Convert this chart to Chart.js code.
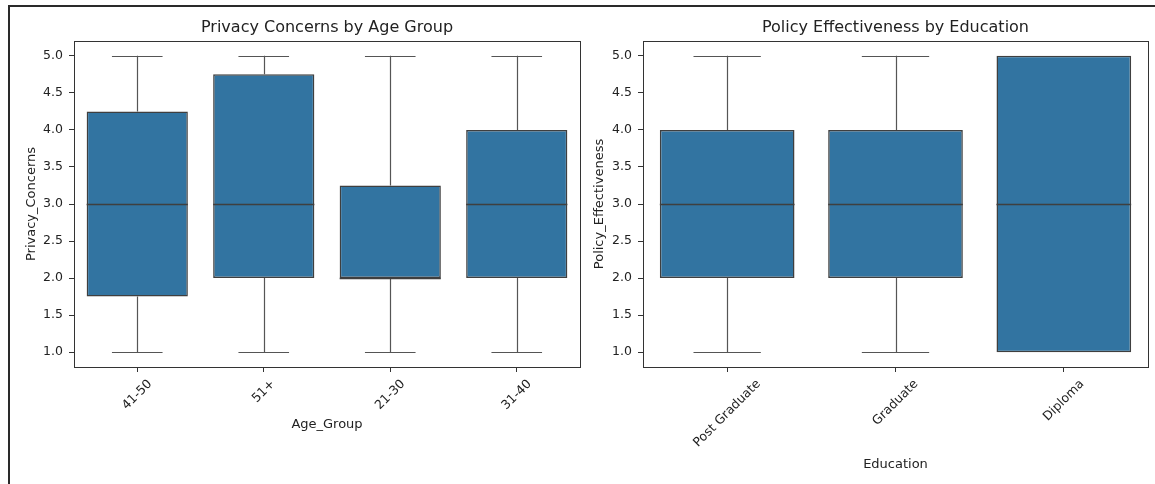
<!DOCTYPE html>
<html>
<head>
<meta charset="utf-8">
<script src="https://cdn.jsdelivr.net/npm/chart.js@4.4.1/dist/chart.umd.min.js"></script>
<style>
  body { margin: 0; background: #fff; width: 1155px; height: 484px; overflow: hidden; position: relative; }
  #frame { position: absolute; left: 8px; top: 5px; width: 1200px; height: 500px; border-left: 2px solid #2a2a2a; border-top: 2px solid #2a2a2a; }
  canvas { position: absolute; top: 0; }
  #chartAge { left: 0; }
  #chartEdu { left: 590px; }
</style>
</head>
<body>
<div id="frame"></div>
<canvas id="chartAge" width="600" height="484"></canvas>
<canvas id="chartEdu" width="565" height="484"></canvas>
<script>
// privacy concerns, five-number summary per age group
const ageGroups = ['41-50', '51+', '21-30', '31-40'];
const privacyMin = [1, 1, 1, 1];
const privacyQ1 = [1.75, 2, 2, 2];
const privacyMedian = [3, 3, 2, 3];
const privacyQ3 = [4.25, 4.75, 3.25, 4];
const privacyMax = [5, 5, 5, 5];

// policy effectiveness per education level
const educationLevels = ['Post Graduate', 'Graduate', 'Diploma'];
const policyMin = [1, 1, 1];
const policyQ1 = [2, 2, 1];
const policyMedian = [3, 3, 3];
const policyQ3 = [4, 4, 5];
const policyMax = [5, 5, 5];

const yTicks = [1.0, 1.5, 2.0, 2.5, 3.0, 3.5, 4.0, 4.5, 5.0];

const FONT = 'DejaVu Sans';
const TEXT = '#222';
const BOX = '#3274a1';
const EDGE = '#3f3f3f';
const TICK_SIZE = 12.5;
const LABEL_SIZE = 13;

// whiskers, caps, medians, the axes frame and rotated category labels
const boxExtras = {
    id: 'boxExtras',
    beforeDatasetsDraw(chart, args, o) {
        const ctx = chart.ctx;
        const xs = chart.scales.x, ys = chart.scales.y;
        ctx.save();
        ctx.strokeStyle = '#555';
        ctx.lineWidth = 1.2;
        for (let i = 0; i < o.labels.length; i++) {
            const x = Math.round(xs.getPixelForValue(i)) + 0.5;
            ctx.beginPath();
            ctx.moveTo(x, ys.getPixelForValue(o.q3[i]));
            ctx.lineTo(x, ys.getPixelForValue(o.max[i]));
            ctx.moveTo(x, ys.getPixelForValue(o.q1[i]));
            ctx.lineTo(x, ys.getPixelForValue(o.min[i]));
            ctx.stroke();
        }
        ctx.restore();
    },
    afterDatasetsDraw(chart, args, o) {
        const ctx = chart.ctx;
        const xs = chart.scales.x, ys = chart.scales.y;
        const step = xs.width / o.labels.length;
        ctx.save();
        for (let i = 0; i < o.labels.length; i++) {
            const x = xs.getPixelForValue(i);
            const cap = step * 0.2;
            const half = step * 0.4;
            ctx.strokeStyle = '#555';
            ctx.lineWidth = 1.2;
            ctx.beginPath();
            // caps only where the whisker sticks out of the box
            let y = Math.round(ys.getPixelForValue(o.max[i])) + 0.5;
            if (o.max[i] > o.q3[i]) { ctx.moveTo(x - cap, y); ctx.lineTo(x + cap, y); }
            y = Math.round(ys.getPixelForValue(o.min[i])) + 0.5;
            if (o.min[i] < o.q1[i]) { ctx.moveTo(x - cap, y); ctx.lineTo(x + cap, y); }
            ctx.stroke();
            ctx.strokeStyle = EDGE;
            ctx.lineWidth = 1.5;
            ctx.beginPath();
            y = Math.round(ys.getPixelForValue(o.median[i])) + 0.5;
            ctx.moveTo(x - half, y); ctx.lineTo(x + half, y);
            ctx.stroke();
        }
        ctx.restore();
    },
    afterDraw(chart, args, o) {
        const ctx = chart.ctx;
        const a = chart.chartArea;
        const xs = chart.scales.x;
        ctx.save();
        ctx.strokeStyle = '#333';
        ctx.lineWidth = 1;
        ctx.strokeRect(Math.round(a.left) + 0.5, Math.round(a.top) + 0.5,
            Math.round(a.right - a.left), Math.round(a.bottom - a.top));

        ctx.font = TICK_SIZE + 'px "' + FONT + '"';
        ctx.fillStyle = TEXT;
        ctx.textAlign = 'center';
        ctx.textBaseline = 'middle';
        o.labels.forEach((lab, i) => {
            const x = xs.getPixelForTick(i);
            const w = ctx.measureText(lab).width;
            const d = (w + 14.5) * Math.SQRT1_2;
            ctx.save();
            ctx.translate(x, a.bottom + 10 + d / 2);
            ctx.rotate(-Math.PI / 4);
            ctx.fillText(lab, 0, 0);
            ctx.restore();
        });
        ctx.restore();
    }
};

function makeBoxChart(id, cfg) {
    const boxes = cfg.labels.map((c, i) => [cfg.q1[i], cfg.q3[i]]);
    return new Chart(document.getElementById(id), {
        type: 'bar',
        data: {
            labels: cfg.labels,
            datasets: [{
                data: boxes,
                backgroundColor: BOX,
                borderColor: EDGE,
                borderWidth: 1.5,
                borderSkipped: false,
                barPercentage: 0.8,
                categoryPercentage: 1.0
            }]
        },
        plugins: [boxExtras],
        options: {
            responsive: false,
            animation: false,
            devicePixelRatio: 1,
            layout: { padding: { left: 0, right: cfg.padRight, top: 0, bottom: 0 } },
            plugins: {
                legend: { display: false },
                tooltip: { enabled: false },
                title: {
                    display: true,
                    text: cfg.title,
                    fullSize: false,
                    color: TEXT,
                    font: { family: FONT, size: 16, weight: 'normal' },
                    padding: { top: 18.4, bottom: 3.4 }
                },
                boxExtras: {
                    labels: cfg.labels, min: cfg.min, q1: cfg.q1,
                    median: cfg.median, q3: cfg.q3, max: cfg.max
                }
            },
            scales: {
                x: {
                    type: 'category',
                    offset: true,
                    border: { display: false },
                    grid: { display: true, offset: false, drawOnChartArea: false, tickLength: 5, color: '#333' },
                    ticks: { display: false },
                    title: {
                        display: true, text: cfg.xTitle, color: TEXT,
                        font: { family: FONT, size: LABEL_SIZE },
                        padding: { top: 0, bottom: cfg.xTitlePad }
                    },
                    afterFit: (s) => { s.height = 117; }
                },
                y: {
                    min: 0.8,
                    max: 5.2,
                    border: { display: false },
                    grid: { drawOnChartArea: false, tickLength: 5, color: '#333' },
                    afterBuildTicks: (s) => { s.ticks = yTicks.map(v => ({ value: v })); },
                    ticks: {
                        padding: 6, color: TEXT,
                        font: { family: FONT, size: TICK_SIZE },
                        callback: (v) => Number(v).toFixed(1)
                    },
                    title: {
                        display: true, text: cfg.yTitle, color: TEXT,
                        font: { family: FONT, size: LABEL_SIZE },
                        padding: { top: cfg.yTitlePad, bottom: 0 }
                    },
                    afterFit: (s) => { s.width = cfg.yWidth; }
                }
            }
        }
    });
}

makeBoxChart('chartAge', {
    title: 'Privacy Concerns by Age Group',
    xTitle: 'Age_Group', yTitle: 'Privacy_Concerns',
    labels: ageGroups, min: privacyMin, q1: privacyQ1, median: privacyMedian,
    q3: privacyQ3, max: privacyMax,
    padRight: 20, yWidth: 74, yTitlePad: 24.2, xTitlePad: 51.2
});

makeBoxChart('chartEdu', {
    title: 'Policy Effectiveness by Education',
    xTitle: 'Education', yTitle: 'Policy_Effectiveness',
    labels: educationLevels, min: policyMin, q1: policyQ1, median: policyMedian,
    q3: policyQ3, max: policyMax,
    padRight: 7, yWidth: 53, yTitlePad: 2.2, xTitlePad: 11.2
});
</script>
</body>
</html>
